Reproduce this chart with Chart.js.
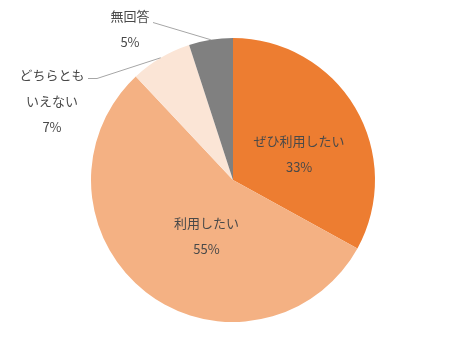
<!DOCTYPE html>
<html>
<head>
<meta charset="utf-8">
<script src="https://cdn.jsdelivr.net/npm/chart.js@4"></script>
<style>
  html, body { margin: 0; padding: 0; background: #fff; }
  #wrap { width: 466px; height: 359px; }
</style>
</head>
<body>
<div id="wrap"><canvas id="pieChart" width="466" height="359"></canvas></div>
<script>
const labels = ["ぜひ利用したい", "利用したい", "どちらともいえない", "無回答"];
const values = [33, 55, 7, 5];
const colors = ["#ED7D31", "#F4B183", "#FBE5D6", "#808080"];

// label lines as shown (long label wraps)
const labelLines = [["ぜひ利用したい"], ["利用したい"], ["どちらとも", "いえない"], ["無回答"]];

const FONT = '13px "Noto Sans CJK JP", "Noto Sans", sans-serif';
const TEXT_COLOR = "#494949";
const LINE_H = 26;

// inside labels: nudge from arc's tooltip position; outside: block centre + leader elbow
const labelStyle = [
    { inside: true, dx: 5, dy: 10 },
    { inside: true, dx: 17, dy: 0 },
    { inside: false, cx: 52, cy: 101, elbowX: 97, elbowY: 78, startX: 88 },
    { inside: false, cx: 130, cy: 29, elbowX: 153, elbowY: 22, startX: 153 }
];

const pieLabels = {
    id: "pieLabels",
    afterDatasetsDraw(chart) {
        const ctx = chart.ctx;
        const meta = chart.getDatasetMeta(0);
        ctx.save();
        ctx.font = FONT;
        ctx.fillStyle = TEXT_COLOR;
        ctx.textAlign = "center";
        ctx.textBaseline = "middle";
        meta.data.forEach((arc, i) => {
            const st = labelStyle[i];
            const lines = labelLines[i].concat([values[i] + "%"]);
            let cx, cy;
            if (st.inside) {
                const p = arc.tooltipPosition();
                cx = p.x + st.dx;
                cy = p.y + st.dy;
            } else {
                cx = st.cx;
                cy = st.cy;
                const mid = (arc.startAngle + arc.endAngle) / 2;
                const ox = arc.x + Math.cos(mid) * arc.outerRadius;
                const oy = arc.y + Math.sin(mid) * arc.outerRadius;
                ctx.beginPath();
                ctx.strokeStyle = "#A6A6A6";
                ctx.lineWidth = 1;
                ctx.moveTo(st.startX, st.elbowY + 0.5);
                ctx.lineTo(st.elbowX, st.elbowY + 0.5);
                ctx.lineTo(ox, oy);
                ctx.stroke();
            }
            const top = cy - (lines.length - 1) * LINE_H / 2;
            lines.forEach((t, k) => ctx.fillText(t, cx, top + k * LINE_H));
        });
        ctx.restore();
    }
};

const canvas = document.getElementById("pieChart");
new Chart(canvas.getContext("2d"), {
    type: "pie",
    data: {
        labels: labels,
        datasets: [{
            data: values,
            backgroundColor: colors,
            borderWidth: 0
        }]
    },
    options: {
        responsive: false,
        animation: false,
        layout: { padding: { top: 38, bottom: 37, left: 0, right: 0 } },
        plugins: {
            legend: { display: false },
            tooltip: { enabled: false }
        }
    },
    plugins: [pieLabels]
});
</script>
</body>
</html>
